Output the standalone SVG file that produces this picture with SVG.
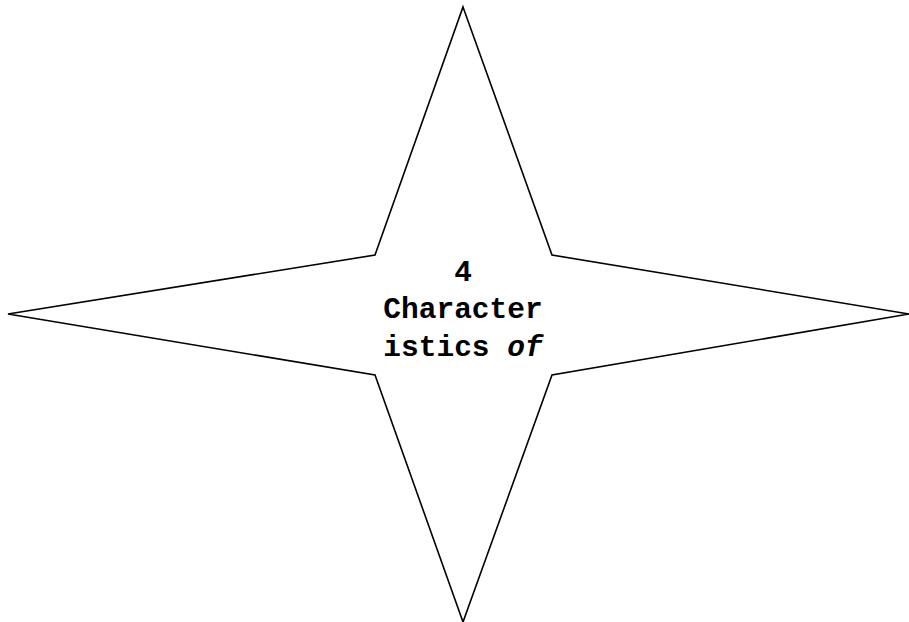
<svg xmlns="http://www.w3.org/2000/svg" width="909" height="622" viewBox="0 0 909 622">
<style>
.shape{fill:#fff;stroke:#000;stroke-width:1.6;stroke-linejoin:miter}
.t{font-family:"Liberation Mono","Courier New",monospace;font-weight:bold;font-size:29.5px;fill:#000;text-anchor:middle}
</style>
<rect width="909" height="622" fill="#fff"/>
<g id="star">
<polygon class="shape" points="463,7 552,255 909,314 552,375 463,622 375,375 8,314 375,255"/>
<text class="t" x="463" y="281">4</text>
<text class="t" x="463" y="318">Character</text>
<text class="t" x="463" y="356">istics <tspan font-style="italic">of</tspan></text>
</g>
</svg>
